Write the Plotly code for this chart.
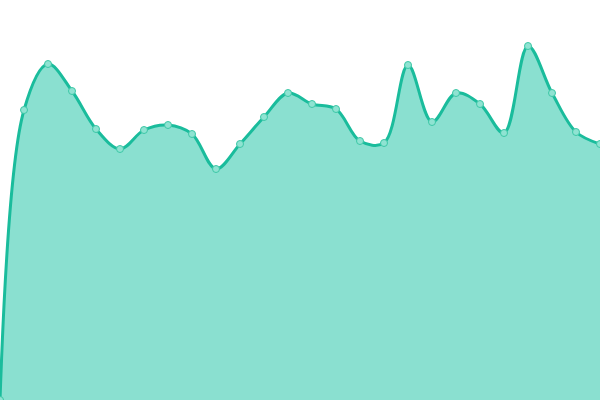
import plotly.graph_objects as go

# one point every 24px (bottom = 0)
x_idx = list(range(26))
values = [0, 290, 336, 309, 271, 251, 270, 275, 266, 231, 256, 283, 307,
          296, 291, 259, 257, 335, 278, 307, 296, 267, 354, 307, 268, 256]

fig = go.Figure()
fig.add_trace(go.Scatter(
    x=x_idx, y=values,
    mode='lines+markers',
    line=dict(color='#1abc9c', width=3, shape='spline', smoothing=1),
    fill='tozeroy',
    fillcolor='#8ae0d0',
    marker=dict(size=7, color='#8fe3d2', line=dict(color='#3cc7a6', width=1)),
    hoverinfo='skip',
))

fig.update_layout(
    width=600, height=400,
    margin=dict(l=0, r=0, t=0, b=0),
    paper_bgcolor='white', plot_bgcolor='white',
    showlegend=False,
    xaxis=dict(visible=False, range=[0, 25]),
    yaxis=dict(visible=False, range=[0, 400]),
)

# drop the page's default body margin so the chart sits at 0,0
fig.write_html(
    "out.html",
    config={'displayModeBar': False},
    post_script="document.body.style.margin='0';document.body.style.overflow='hidden';",
)
